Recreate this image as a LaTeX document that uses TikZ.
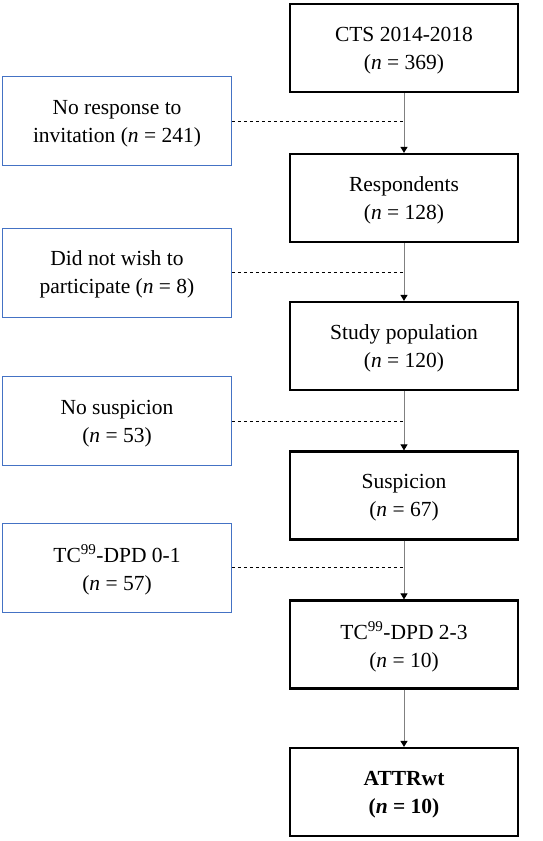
\documentclass[tikz,border=0pt]{standalone}
\usepackage{fontspec}
\setmainfont{Liberation Serif}
\usetikzlibrary{arrows.meta, calc}
\definecolor{boxblue}{RGB}{68,114,196}

\tikzset{
  mainbox/.style={draw=black, line width=2.2pt, minimum width=228pt, minimum height=88pt, align=center, inner sep=0pt, text depth=0pt},
  sidebox/.style={draw=boxblue, line width=0.9pt, minimum width=229pt, minimum height=89pt, align=center, inner sep=0pt, text depth=0pt},
  flow/.style={draw=gray, line width=0.9pt, -{Triangle[black, length=6pt, width=7pt]}},
  drop/.style={draw=black, line width=0.8pt, dash pattern=on 3.5pt off 2.5pt}
}

\begin{document}
\begin{tikzpicture}[x=1pt, y=-1pt, font=\fontsize{21.5}{28}\selectfont]
        \useasboundingbox (0,0) rectangle (543,841);

        \node[mainbox] (cts) at (404,48) {CTS 2014-2018\\(\textit{n} = 369)};
        \node[mainbox] (resp) at (404,198) {Respondents\\(\textit{n} = 128)};
        \node[mainbox] (study) at (404,346) {Study population\\(\textit{n} = 120)};
        \node[mainbox] (susp) at (404,495.5) {Suspicion\\(\textit{n} = 67)};
        \node[mainbox] (dpdhigh) at (404,644.5) {TC\textsuperscript{99}-DPD 2-3\\(\textit{n} = 10)};
        \node[mainbox] (attr) at (404,792) {\textbf{ATTRwt}\\\textbf{(\textit{n} = 10)}};

        \node[sidebox] (noresp) at (117,121) {No response to\\invitation (\textit{n} = 241)};
        \node[sidebox] (nowish) at (117,272.5) {Did not wish to\\participate (\textit{n} = 8)};
        \node[sidebox] (nosusp) at (117,421) {No suspicion\\(\textit{n} = 53)};
        \node[sidebox] (dpdlow) at (117,567.5) {TC\textsuperscript{99}-DPD 0-1\\(\textit{n} = 57)};

        \coordinate (j1) at (cts.south |- noresp.east);
        \coordinate (j2) at (resp.south |- nowish.east);
        \coordinate (j3) at (study.south |- nosusp.east);
        \coordinate (j4) at (susp.south |- dpdlow.east);

        \draw[flow] (cts) -- (resp);
        \draw[flow] (resp) -- (study);
        \draw[flow] (study) -- (susp);
        \draw[flow] (susp) -- (dpdhigh);
        \draw[flow] (dpdhigh) -- (attr);

        \draw[drop] (noresp) -- (j1);
        \draw[drop] (nowish) -- (j2);
        \draw[drop] (nosusp) -- (j3);
        \draw[drop] (dpdlow) -- (j4);
    \end{tikzpicture}
\end{document}
